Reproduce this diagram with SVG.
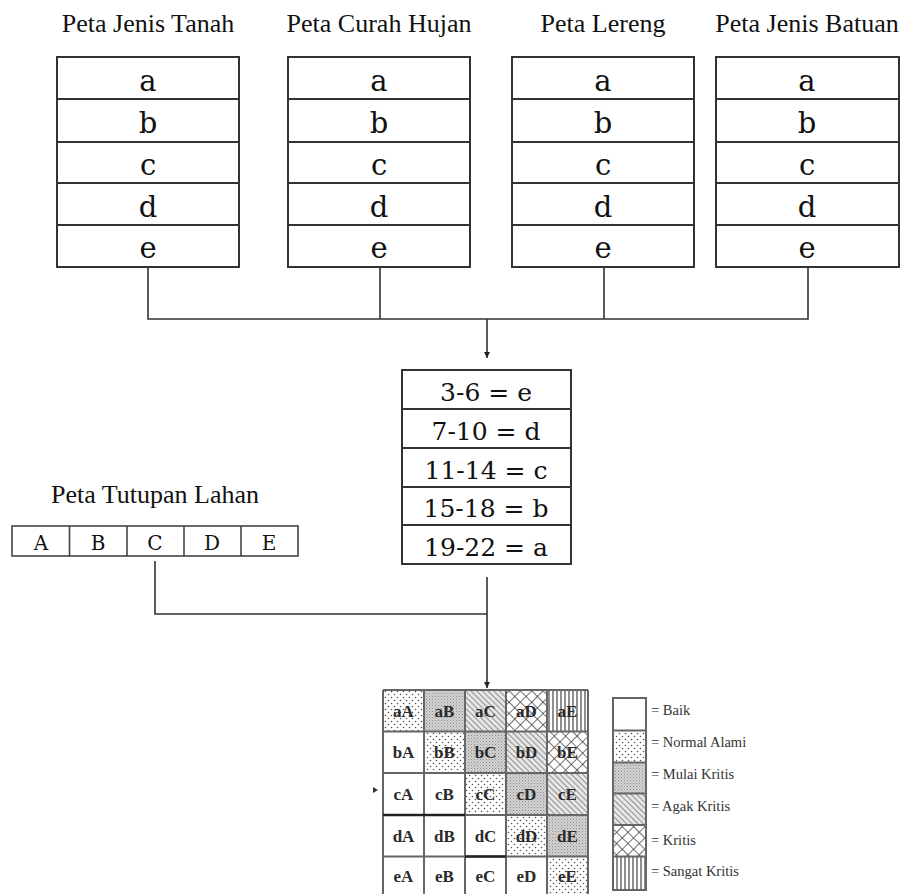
<svg xmlns="http://www.w3.org/2000/svg" width="903" height="894" viewBox="0 0 903 894">
<style>
.title{font-family:"Liberation Serif","Times New Roman",serif;font-size:26px;fill:#111;text-anchor:middle}
.cell{font-family:"DejaVu Serif",serif;font-size:29px;fill:#111;text-anchor:middle}
.mid{font-family:"DejaVu Serif",serif;font-size:25px;fill:#111;text-anchor:middle}
.lc{font-family:"DejaVu Serif",serif;font-size:20px;fill:#111;text-anchor:middle}
.box{fill:#fff;stroke:#333;stroke-width:2}
.div{stroke:#333;stroke-width:2}
.conn{fill:none;stroke:#333;stroke-width:1.6}
.mx{font-family:"Liberation Serif","Times New Roman",serif;font-size:17px;font-weight:bold;fill:#2a2a2a;text-anchor:middle}
.grid{stroke:#666;stroke-width:2;fill:none}
.leg{font-family:"Liberation Serif","Times New Roman",serif;font-size:14.5px;fill:#333}
</style>
<defs>
<marker id="arr" viewBox="0 0 6 6" refX="6" refY="3" markerWidth="6" markerHeight="6" markerUnits="userSpaceOnUse" orient="auto">
<path d="M0,0 L6,3 L0,6 z" fill="#222"/>
</marker>
<pattern id="pDot" width="6" height="6" patternUnits="userSpaceOnUse">
<rect width="6" height="6" fill="#fff"/>
<circle cx="1.5" cy="1.5" r="0.8" fill="#555"/>
<circle cx="4.5" cy="4.5" r="0.8" fill="#555"/>
</pattern>
<pattern id="pMul" width="3" height="3" patternUnits="userSpaceOnUse">
<rect width="3" height="3" fill="#d2d2d2"/>
<rect x="0" y="0" width="1" height="1" fill="#8a8a8a"/>
<rect x="1.5" y="1.5" width="1" height="1" fill="#a8a8a8"/>
</pattern>
<pattern id="pAgak" width="4" height="4" patternUnits="userSpaceOnUse" patternTransform="rotate(-45)">
<rect width="4" height="4" fill="#e6e6e6"/>
<line x1="0" y1="0" x2="0" y2="4" stroke="#555" stroke-width="1.2"/>
</pattern>
<pattern id="pKri" width="8" height="8" patternUnits="userSpaceOnUse" patternTransform="rotate(45)">
<rect width="8" height="8" fill="#fff"/>
<line x1="0" y1="0" x2="0" y2="8" stroke="#333" stroke-width="1.4"/>
<line x1="0" y1="0" x2="8" y2="0" stroke="#333" stroke-width="1.4"/>
</pattern>
<pattern id="pSan" width="4" height="4" patternUnits="userSpaceOnUse">
<rect width="4" height="4" fill="#fff"/>
<line x1="1" y1="0" x2="1" y2="4" stroke="#444" stroke-width="1.2"/>
</pattern>
</defs>
<rect width="903" height="894" fill="#fff"/>

<g id="tanah">
<text class="title" x="148" y="32">Peta Jenis Tanah</text>
<rect class="box" x="57" y="57" width="182" height="210"/>
<line class="div" x1="57" y1="99" x2="239" y2="99"/>
<line class="div" x1="57" y1="142" x2="239" y2="142"/>
<line class="div" x1="57" y1="183" x2="239" y2="183"/>
<line class="div" x1="57" y1="225" x2="239" y2="225"/>
<text class="cell" x="148" y="91">a</text>
<text class="cell" x="148" y="133">b</text>
<text class="cell" x="148" y="175">c</text>
<text class="cell" x="148" y="217">d</text>
<text class="cell" x="148" y="258">e</text>
</g>

<g id="curah">
<text class="title" x="379" y="32">Peta Curah Hujan</text>
<rect class="box" x="288" y="57" width="182" height="210"/>
<line class="div" x1="288" y1="99" x2="470" y2="99"/>
<line class="div" x1="288" y1="142" x2="470" y2="142"/>
<line class="div" x1="288" y1="183" x2="470" y2="183"/>
<line class="div" x1="288" y1="225" x2="470" y2="225"/>
<text class="cell" x="379" y="91">a</text>
<text class="cell" x="379" y="133">b</text>
<text class="cell" x="379" y="175">c</text>
<text class="cell" x="379" y="217">d</text>
<text class="cell" x="379" y="258">e</text>
</g>

<g id="lereng">
<text class="title" x="603" y="32">Peta Lereng</text>
<rect class="box" x="512" y="57" width="182" height="210"/>
<line class="div" x1="512" y1="99" x2="694" y2="99"/>
<line class="div" x1="512" y1="142" x2="694" y2="142"/>
<line class="div" x1="512" y1="183" x2="694" y2="183"/>
<line class="div" x1="512" y1="225" x2="694" y2="225"/>
<text class="cell" x="603" y="91">a</text>
<text class="cell" x="603" y="133">b</text>
<text class="cell" x="603" y="175">c</text>
<text class="cell" x="603" y="217">d</text>
<text class="cell" x="603" y="258">e</text>
</g>

<g id="batuan">
<text class="title" x="807" y="32">Peta Jenis Batuan</text>
<rect class="box" x="716" y="57" width="183" height="210"/>
<line class="div" x1="716" y1="99" x2="899" y2="99"/>
<line class="div" x1="716" y1="142" x2="899" y2="142"/>
<line class="div" x1="716" y1="183" x2="899" y2="183"/>
<line class="div" x1="716" y1="225" x2="899" y2="225"/>
<text class="cell" x="807" y="91">a</text>
<text class="cell" x="807" y="133">b</text>
<text class="cell" x="807" y="175">c</text>
<text class="cell" x="807" y="217">d</text>
<text class="cell" x="807" y="258">e</text>
</g>

<g id="skor">
<rect class="box" x="402" y="370" width="169" height="194"/>
<line class="div" x1="402" y1="409" x2="571" y2="409"/>
<line class="div" x1="402" y1="448" x2="571" y2="448"/>
<line class="div" x1="402" y1="487" x2="571" y2="487"/>
<line class="div" x1="402" y1="525" x2="571" y2="525"/>
<text class="mid" x="486" y="401">3-6 = e</text>
<text class="mid" x="486" y="440">7-10 = d</text>
<text class="mid" x="486" y="479">11-14 = c</text>
<text class="mid" x="486" y="517">15-18 = b</text>
<text class="mid" x="486" y="556">19-22 = a</text>
</g>

<g id="tutupan">
<text class="title" x="155" y="503">Peta Tutupan Lahan</text>
<rect x="12" y="526" width="286" height="30" fill="#fff" stroke="#444" stroke-width="1.6"/>
<line x1="69.5" y1="526" x2="69.5" y2="556" stroke="#444" stroke-width="1.6"/>
<line x1="127" y1="526" x2="127" y2="556" stroke="#444" stroke-width="1.6"/>
<line x1="184" y1="526" x2="184" y2="556" stroke="#444" stroke-width="1.6"/>
<line x1="241" y1="526" x2="241" y2="556" stroke="#444" stroke-width="1.6"/>
<text class="lc" x="41" y="550">A</text>
<text class="lc" x="98" y="550">B</text>
<text class="lc" x="155" y="550">C</text>
<text class="lc" x="212" y="550">D</text>
<text class="lc" x="269" y="550">E</text>
</g>

<g id="connectors">
<path class="conn" d="M148,267 V319 H808 V267"/>
<path class="conn" d="M380,267 V319"/>
<path class="conn" d="M604,267 V319"/>
<path class="conn" d="M487,319 V358" marker-end="url(#arr)"/>
<path class="conn" d="M155,561 V614 H487"/>
<path class="conn" d="M487,577 V688" marker-end="url(#arr)"/>
<path d="M373,787 L378,790 L373,793 z" fill="#333"/>
</g>

<g id="matriks">
<rect x="383" y="690" width="41" height="41.5" fill="url(#pDot)"/>
<rect x="424" y="690" width="41" height="41.5" fill="url(#pMul)"/>
<rect x="465" y="690" width="41" height="41.5" fill="url(#pAgak)"/>
<rect x="506" y="690" width="41" height="41.5" fill="url(#pKri)"/>
<rect x="547" y="690" width="41" height="41.5" fill="url(#pSan)"/>
<rect x="424" y="731.5" width="41" height="41.5" fill="url(#pDot)"/>
<rect x="465" y="731.5" width="41" height="41.5" fill="url(#pMul)"/>
<rect x="506" y="731.5" width="41" height="41.5" fill="url(#pAgak)"/>
<rect x="547" y="731.5" width="41" height="41.5" fill="url(#pKri)"/>
<rect x="465" y="773" width="41" height="42" fill="url(#pDot)"/>
<rect x="506" y="773" width="41" height="42" fill="url(#pMul)"/>
<rect x="547" y="773" width="41" height="42" fill="url(#pAgak)"/>
<rect x="506" y="815" width="41" height="41.5" fill="url(#pDot)"/>
<rect x="547" y="815" width="41" height="41.5" fill="url(#pMul)"/>
<rect x="547" y="856.5" width="41" height="40" fill="url(#pDot)"/>
<path class="grid" d="M383,690 H588 M383,731.5 H588 M383,773 H588 M383,815 H588 M383,856.5 H588 M383,690 V894 M424,690 V894 M465,690 V894 M506,690 V894 M547,690 V894 M588,690 V894"/>
<path d="M383,815 H465 M465,856.5 H506" stroke="#222" stroke-width="2.4" fill="none"/>
<text class="mx" x="403.5" y="717">aA</text>
<text class="mx" x="444.5" y="717">aB</text>
<text class="mx" x="485.5" y="717">aC</text>
<text class="mx" x="526.5" y="717">aD</text>
<text class="mx" x="567.5" y="717">aE</text>
<text class="mx" x="403.5" y="758">bA</text>
<text class="mx" x="444.5" y="758">bB</text>
<text class="mx" x="485.5" y="758">bC</text>
<text class="mx" x="526.5" y="758">bD</text>
<text class="mx" x="567.5" y="758">bE</text>
<text class="mx" x="403.5" y="800">cA</text>
<text class="mx" x="444.5" y="800">cB</text>
<text class="mx" x="485.5" y="800">cC</text>
<text class="mx" x="526.5" y="800">cD</text>
<text class="mx" x="567.5" y="800">cE</text>
<text class="mx" x="403.5" y="842">dA</text>
<text class="mx" x="444.5" y="842">dB</text>
<text class="mx" x="485.5" y="842">dC</text>
<text class="mx" x="526.5" y="842">dD</text>
<text class="mx" x="567.5" y="842">dE</text>
<text class="mx" x="403.5" y="882">eA</text>
<text class="mx" x="444.5" y="882">eB</text>
<text class="mx" x="485.5" y="882">eC</text>
<text class="mx" x="526.5" y="882">eD</text>
<text class="mx" x="567.5" y="882">eE</text>
</g>

<g id="legenda">
<rect x="613" y="698" width="33" height="32.5" fill="#fff"/>
<rect x="613" y="730.5" width="33" height="32" fill="url(#pDot)"/>
<rect x="613" y="762.5" width="33" height="31" fill="url(#pMul)"/>
<rect x="613" y="793.5" width="33" height="31.5" fill="url(#pAgak)"/>
<rect x="613" y="825" width="33" height="31.5" fill="url(#pKri)"/>
<rect x="613" y="856.5" width="33" height="33.5" fill="url(#pSan)"/>
<path class="grid" d="M613,698 H646 V890 H613 Z M613,730.5 H646 M613,762.5 H646 M613,793.5 H646 M613,825 H646 M613,856.5 H646"/>
<text class="leg" x="651" y="715">= Baik</text>
<text class="leg" x="651" y="747">= Normal Alami</text>
<text class="leg" x="651" y="779">= Mulai Kritis</text>
<text class="leg" x="651" y="811">= Agak Kritis</text>
<text class="leg" x="651" y="845">= Kritis</text>
<text class="leg" x="651" y="876">= Sangat Kritis</text>
</g>
</svg>
